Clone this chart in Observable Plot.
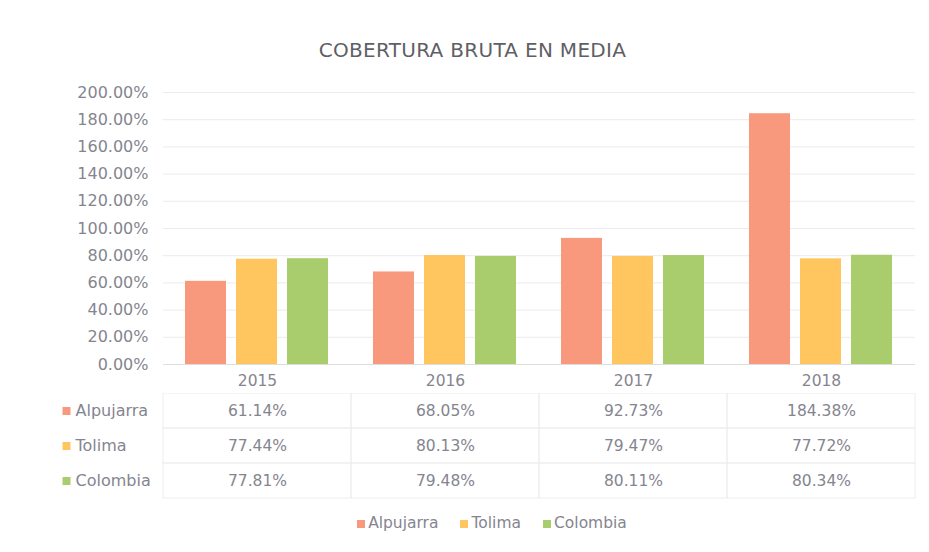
<!DOCTYPE html>
<html>
<head>
<meta charset="utf-8">
<script src="https://cdn.jsdelivr.net/npm/d3@7"></script>
<script src="https://cdn.jsdelivr.net/npm/@observablehq/plot@0.6"></script>
<style>
  html, body { margin: 0; padding: 0; background: #ffffff; }
  body { width: 929px; height: 552px; overflow: hidden; font-family: "DejaVu Sans", sans-serif; }
  #title { box-sizing: border-box; height: 70px; padding-top: 38px; line-height: 24px; font-size: 20px; color: #5f5f66; text-align: center; letter-spacing: 0.3px; padding-left: 16px; }
  #legend { display: flex; justify-content: center; align-items: center; gap: 22px; margin-top: 15px; font-size: 15.5px; color: #85858f; padding-left: 55px; }
  #legend span.sw { display: inline-block; width: 8px; height: 8px; margin-right: 3px; }
  svg { display: block; }
</style>
</head>
<body>
<div id="title">COBERTURA BRUTA EN MEDIA</div>
<div id="chart"></div>
<div id="table"></div>
<div id="legend"></div>
<script>
const years = ["2015", "2016", "2017", "2018"];
const series = ["Alpujarra", "Tolima", "Colombia"];
const colors = ["#f8987c", "#ffc660", "#a9cc6c"];
const alpujarra = [61.14, 68.05, 92.73, 184.38];
const tolima = [77.44, 80.13, 79.47, 77.72];
const colombia = [77.81, 79.48, 80.11, 80.34];
const yTicks = [0, 20, 40, 60, 80, 100, 120, 140, 160, 180, 200];

const valuesBySeries = [alpujarra, tolima, colombia];
const rows = [];
series.forEach((s, i) => years.forEach((y, j) => rows.push({series: s, year: y, value: valuesBySeries[i][j]})));

const textColor = "#85858f";
const fmt = v => v.toFixed(2) + "%";
const fontStyle = {fontFamily: "DejaVu Sans, sans-serif", fontSize: "15.5px", color: textColor, background: "transparent"};

const chart = Plot.plot({
  width: 929,
  height: 323,
  marginTop: 22,
  marginBottom: 29,
  marginLeft: 163,
  marginRight: 14,
  style: fontStyle,
  fx: {domain: years, padding: 0, label: null},
  x: {domain: series, paddingInner: 0.19, paddingOuter: 0.41, axis: null},
  y: {domain: [0, 200], label: null},
  color: {domain: series, range: colors},
  marks: [
    Plot.gridY(yTicks, {stroke: "#ebebeb", strokeOpacity: 1}),
    Plot.axisY(yTicks, {tickSize: 0, tickPadding: 15, tickFormat: fmt, fill: textColor, fontSize: 16, label: null}),
    Plot.ruleY([0], {stroke: "#dedede"}),
    Plot.barY(rows, {fx: "year", x: "series", y: "value", fill: "series"}),
    Plot.axisFx({anchor: "bottom", tickSize: 0, tickPadding: 10, fill: textColor, fontSize: 15.5, label: null})
  ]
});
document.getElementById("chart").appendChild(chart);

const table = Plot.plot({
  width: 929,
  height: 106,
  marginTop: 0,
  marginBottom: 1,
  marginLeft: 163,
  marginRight: 14,
  style: fontStyle,
  x: {domain: years, padding: 0, axis: null},
  y: {domain: series, padding: 0, axis: null},
  color: {domain: series, range: colors},
  marks: [
    Plot.cell(rows, {x: "year", y: "series", fill: "none", stroke: "#ededed"}),
    Plot.text(rows, {x: "year", y: "series", text: d => fmt(d.value), fill: textColor, fontSize: 15.5}),
    Plot.dot(series, {y: d => d, frameAnchor: "left", dx: -97, symbol: "square", r: 4.5, fill: d => d}),
    Plot.text(series, {y: d => d, text: d => d, frameAnchor: "left", dx: -88, textAnchor: "start", fill: textColor, fontSize: 16})
  ]
});
document.getElementById("table").appendChild(table);

const legend = document.getElementById("legend");
series.forEach((s, i) => {
  const item = document.createElement("div");
  item.innerHTML = `<span class="sw" style="background:${colors[i]}"></span>${s}`;
  legend.appendChild(item);
});
</script>
</body>
</html>
